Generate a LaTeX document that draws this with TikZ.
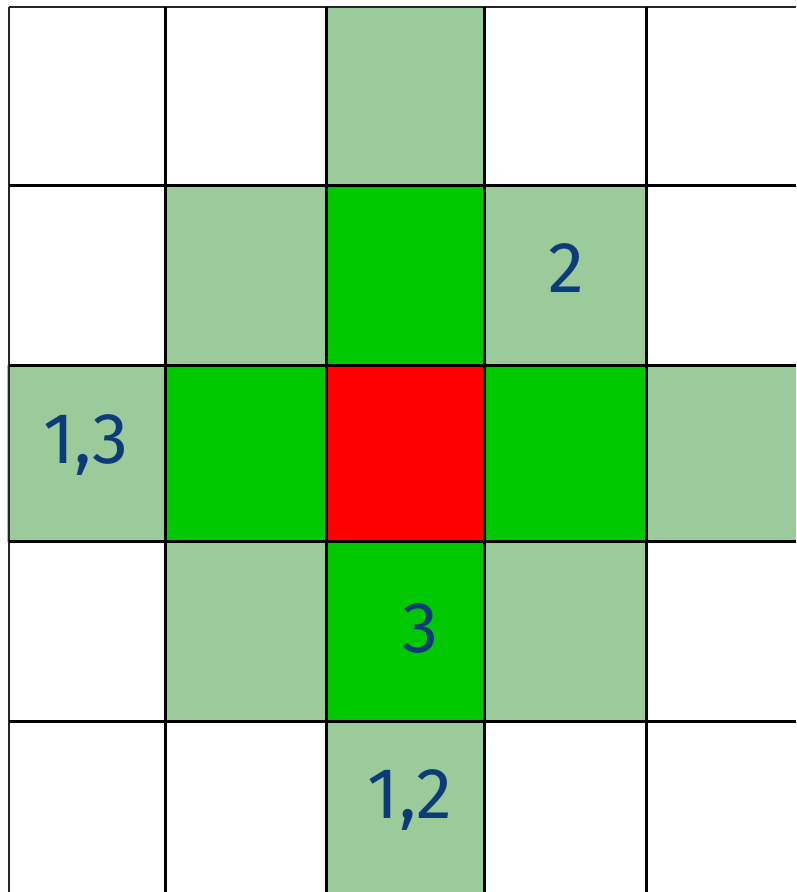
\documentclass[tikz,border=0pt]{standalone}
\usepackage{fontspec}
\setmainfont{Fira Sans}
\definecolor{lightg}{HTML}{9BCB9A}
\definecolor{brightg}{HTML}{00C800}
\definecolor{redc}{HTML}{FF0000}
\definecolor{txtc}{HTML}{0D3B78}
\begin{document}
\begin{tikzpicture}[x=1pt,y=-1pt,
  lbl/.style={text=txtc,font=\fontsize{72}{80}\selectfont,anchor=base,inner sep=0pt},
  gline/.style={line width=3pt,black},
  eline/.style={line width=2pt,black!85}]
\useasboundingbox (0,0) rectangle (796,892);
\fill[white] (0,0) rectangle (796,892);
% light green cells
\fill[lightg] (326,7) rectangle (484.5,185);
\fill[lightg] (165.7,185) rectangle (326,365);
\fill[lightg] (484.5,185) rectangle (646.5,365);
\fill[lightg] (7,365) rectangle (165.7,541.5);
\fill[lightg] (646.5,365) rectangle (796,541.5);
\fill[lightg] (165.7,541.5) rectangle (326,721);
\fill[lightg] (484.5,541.5) rectangle (646.5,721);
\fill[lightg] (326,721) rectangle (484.5,892);
% bright green cells
\fill[brightg] (326,185) rectangle (484.5,365);
\fill[brightg] (165.7,365) rectangle (326,541.5);
\fill[brightg] (484.5,365) rectangle (646.5,541.5);
\fill[brightg] (326,541.5) rectangle (484.5,721);
% red
\fill[redc] (326,365) rectangle (484.5,541.5);
% grid lines
\draw[eline] (8.7,7.3) -- (8.7,892);
\draw[eline] (8.7,7.3) -- (796,7.3);
\foreach \x in {165.7,326,484.5,646.5} \draw[gline] (\x,7.3) -- (\x,892);
\foreach \y in {185,365,541.5,721} \draw[gline] (8.7,\y) -- (796,\y);
% labels
\node[lbl] (a) at (86,463) {1,3};
\node[lbl] (b) at (566,292) {2};
\node[lbl] (c) at (420,652) {3};
\node[lbl] (d) at (410,818) {1,2};
\end{tikzpicture}
\end{document}
